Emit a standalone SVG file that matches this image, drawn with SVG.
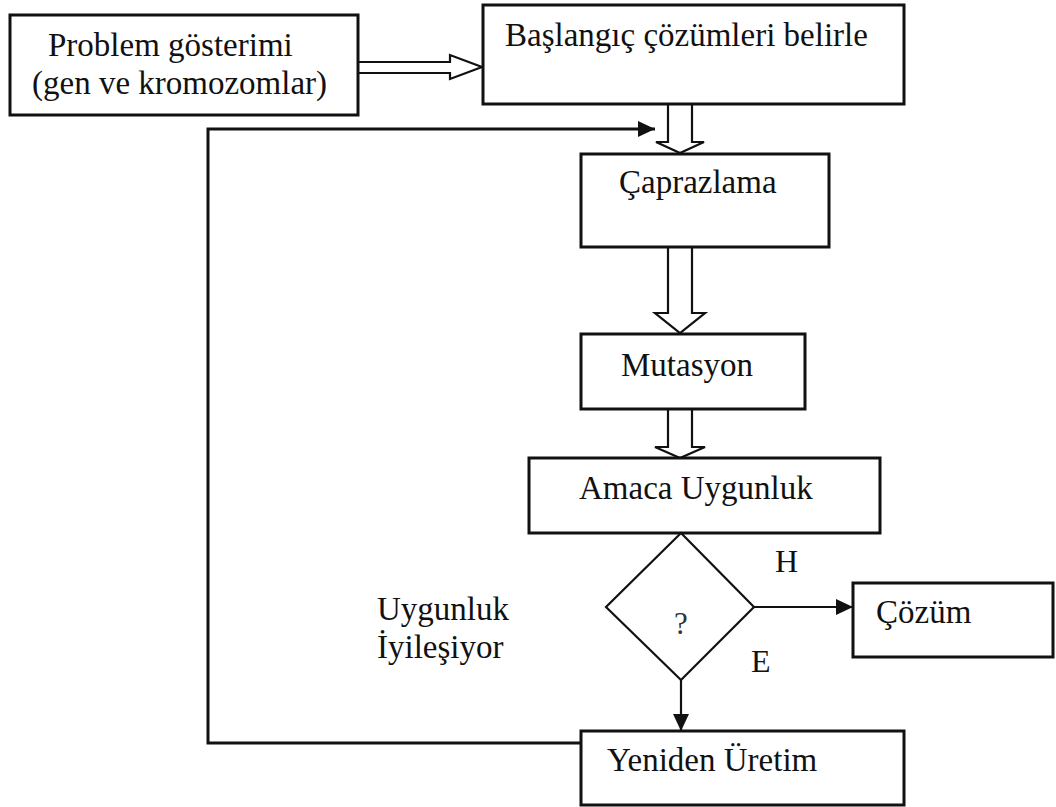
<svg xmlns="http://www.w3.org/2000/svg" width="1056" height="807" viewBox="0 0 1056 807">
<style>
.box{fill:#fff;stroke:#111;stroke-width:3}
.blk{fill:#fff;stroke:#111;stroke-width:2.2;stroke-linejoin:miter}
.ln{fill:none;stroke:#111;stroke-width:2.2}
.loop{fill:none;stroke:#111;stroke-width:3}
.t{font-family:"Liberation Serif","Times New Roman",serif;font-size:33px;fill:#111}
.s{font-family:"Liberation Serif","Times New Roman",serif;font-size:32px;fill:#111}
.q{font-family:"Liberation Serif","Times New Roman",serif;font-size:31px;fill:#333}
</style>
<defs>
<marker id="ah" markerUnits="userSpaceOnUse" markerWidth="18" markerHeight="16" refX="17" refY="8" orient="auto">
<path d="M0,0 L17,8 L0,16 z" fill="#111"/>
</marker>
</defs>
<rect width="1056" height="807" fill="#fff"/>
<g id="connectors">
<path class="blk" d="M358,62 H450 V55 L482,67 L450,79 V73 H358"/>
<path class="blk" d="M668,104 V142 H656 L680,153 L704,142 H692 V104"/>
<path class="blk" d="M668,247 V313 H655 L680,333 L705,313 H692 V247"/>
<path class="blk" d="M668,409 V447 H655 L680,458 L705,447 H692 V409"/>
<path class="loop" d="M581,743 H208 V129 H655" marker-end="url(#ah)"/>
<path class="ln" d="M754,607 H853" marker-end="url(#ah)"/>
<path class="ln" d="M681,680 V731" marker-end="url(#ah)"/>
</g>
<g id="problem">
<rect class="box" x="10" y="15" width="348" height="100"/>
<text class="t" x="48" y="56">Problem gösterimi</text>
<text class="t" x="32" y="94">(gen ve kromozomlar)</text>
</g>
<g id="baslangic">
<rect class="box" x="483" y="5" width="421" height="99"/>
<text class="t" x="505" y="46">Başlangıç çözümleri belirle</text>
</g>
<g id="caprazlama">
<rect class="box" x="581" y="154" width="248" height="93"/>
<text class="t" x="619" y="193">Çaprazlama</text>
</g>
<g id="mutasyon">
<rect class="box" x="581" y="334" width="224" height="75"/>
<text class="t" x="621" y="376">Mutasyon</text>
</g>
<g id="amaca">
<rect class="box" x="529" y="458" width="351" height="75"/>
<text class="t" x="579" y="499">Amaca Uygunluk</text>
</g>
<g id="karar">
<polygon points="681,533 754,607 681,680 606,607" fill="#fff" stroke="#111" stroke-width="2.2"/>
<text class="q" x="681" y="634" text-anchor="middle">?</text>
</g>
<g id="cozum">
<rect class="box" x="853" y="583" width="200" height="74"/>
<text class="t" x="876" y="623">Çözüm</text>
</g>
<g id="yeniden">
<rect class="box" x="581" y="731" width="323" height="74"/>
<text class="t" x="607" y="771">Yeniden Üretim</text>
</g>
<g id="labels">
<text class="s" x="775" y="572">H</text>
<text class="s" x="751" y="672">E</text>
<text class="t" x="377" y="620">Uygunluk</text>
<text class="t" x="377" y="658">İyileşiyor</text>
</g>
</svg>
